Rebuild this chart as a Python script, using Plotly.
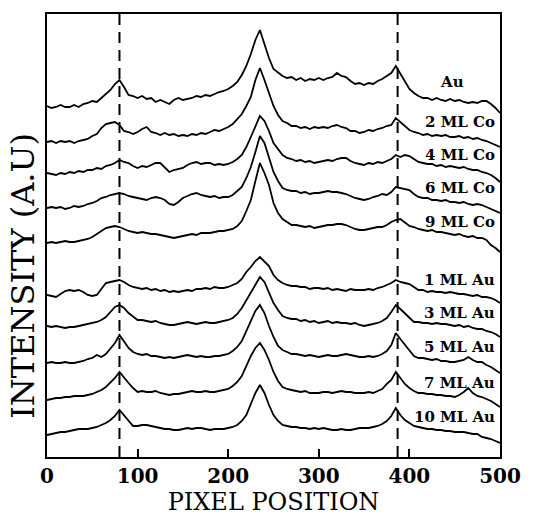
import plotly.graph_objects as go

# pixel position grid (step 5)
pixel = list(range(0, 505, 5))

labels = ["Au", "2 ML Co", "4 ML Co", "6 ML Co", "9 ML Co",
          "1 ML Au", "3 ML Au", "5 ML Au", "7 ML Au", "10 ML Au"]

# vertical offsets used to stack the spectra (a.u.)
offsets = [351, 315, 284, 249, 214, 162, 131, 94, 57, 22]

# reference peak positions (dashed lines)
ref_peaks = [80, 387]

au = [0, -2, -1, 1, -1, -1, 1, -1, 2, 3,
      5, 4, 8, 12, 16, 22, 26, 19, 11, 10,
      8, 10, 7, 8, 4, 6, 4, 2, 6, 8,
      6, 7, 8, 10, 9, 11, 10, 12, 14, 15,
      17, 20, 24, 31, 40, 52, 66, 76, 62, 48,
      37, 33, 30, 28, 29, 26, 28, 25, 27, 26,
      28, 26, 28, 29, 33, 30, 29, 25, 22, 23,
      21, 23, 22, 25, 27, 30, 33, 40, 32, 24,
      17, 13, 10, 8, 8, 6, 8, 6, 5, 7,
      5, 6, 4, 3, 4, 3, 5, 5, 2, -2,
      -7]

co2 = [0, 1, -1, 1, 0, 1, -1, 1, 2, 3,
       6, 8, 14, 18, 19, 20, 17, 11, 10, 8,
       10, 13, 15, 10, 9, 7, 9, 7, 8, 6,
       7, 6, 8, 7, 9, 8, 10, 12, 11, 13,
       15, 18, 23, 28, 36, 45, 62, 74, 62, 48,
       36, 27, 21, 19, 16, 16, 14, 15, 13, 15,
       14, 15, 14, 16, 17, 15, 14, 11, 11, 9,
       10, 12, 11, 13, 14, 16, 17, 24, 20, 16,
       12, 10, 9, 7, 8, 6, 7, 6, 7, 5,
       5, 6, 4, 5, 3, 4, 2, 1, -1, -3,
       -5]

co4 = [0, -1, -2, 0, -1, 1, 0, 2, 1, 3,
       3, 5, 4, 7, 8, 10, 13, 11, 10, 7,
       5, 7, 6, 8, 10, 10, 6, 1, 3, 4,
       5, 8, 10, 11, 9, 10, 10, 8, 9, 8,
       9, 11, 14, 18, 26, 36, 46, 57, 52, 42,
       30, 24, 18, 15, 14, 12, 13, 11, 12, 10,
       11, 12, 13, 12, 14, 15, 15, 12, 10, 9,
       8, 10, 9, 11, 10, 12, 14, 18, 16, 18,
       17, 14, 11, 10, 9, 9, 7, 8, 6, 7,
       6, 5, 6, 4, 3, 3, 1, 0, -2, -5,
       -9]

co6 = [0, 1, 0, 1, -1, 0, 2, 1, 2, 4,
       5, 7, 10, 11, 13, 14, 15, 14, 12, 11,
       10, 9, 8, 10, 11, 10, 8, 4, 3, 6,
       10, 12, 14, 15, 13, 12, 11, 12, 10, 11,
       11, 13, 17, 21, 30, 41, 56, 72, 65, 50,
       36, 27, 20, 18, 17, 17, 15, 16, 14, 15,
       15, 16, 17, 16, 16, 15, 14, 12, 10, 9,
       8, 9, 11, 12, 14, 13, 16, 21, 20, 19,
       18, 14, 11, 10, 10, 8, 8, 7, 8, 6,
       6, 5, 6, 4, 3, 4, 3, 1, -1, -3,
       -5]

co9 = [0, 1, 0, 1, 2, 1, 1, 2, 3, 4,
       6, 9, 12, 15, 16, 17, 16, 14, 12, 11,
       10, 11, 10, 9, 9, 8, 7, 6, 5, 6,
       7, 8, 9, 8, 10, 10, 10, 11, 12, 12,
       13, 14, 17, 22, 32, 43, 62, 80, 70, 58,
       40, 30, 24, 21, 18, 18, 17, 16, 17, 15,
       16, 17, 18, 18, 19, 19, 18, 16, 14, 13,
       13, 14, 15, 16, 16, 18, 21, 23, 24, 20,
       17, 16, 14, 13, 12, 13, 11, 11, 10, 9,
       8, 9, 7, 6, 7, 5, 5, 3, -2, -5,
       -9]

au1 = [0, -1, -2, 1, 4, 5, 4, 5, 3, 0,
       -1, 0, 6, 12, 13, 14, 15, 13, 10, 8,
       7, 6, 7, 5, 6, 4, 5, 3, 4, 3,
       4, 5, 4, 6, 6, 7, 6, 8, 7, 7,
       8, 10, 12, 16, 23, 28, 34, 38, 34, 29,
       20, 15, 12, 10, 9, 9, 8, 8, 6, 7,
       7, 6, 7, 5, 6, 5, 4, 6, 5, 5,
       5, 6, 5, 7, 8, 10, 12, 15, 13, 12,
       11, 8, 5, 5, 3, 4, 3, 3, 2, 3,
       2, 1, 1, 0, -1, 0, -2, -2, -3, -5,
       -8]

au3 = [0, -1, 0, -1, -2, -1, -1, 0, 1, 2,
       3, 4, 6, 9, 14, 19, 21, 18, 13, 9,
       6, 6, 5, 4, 5, 3, 2, 1, 1, 2,
       3, 4, 3, 2, 3, 4, 3, 3, 4, 5,
       6, 8, 12, 18, 26, 34, 42, 49, 44, 33,
       23, 16, 10, 8, 7, 7, 5, 6, 4, 5,
       3, 4, 5, 3, 4, 3, 3, 2, 3, 1,
       0, 1, 2, 3, 5, 8, 14, 21, 17, 13,
       9, 4, 4, 3, 3, 2, 3, 2, 2, 1,
       0, 1, -1, 0, -2, -3, -3, -5, -6, -8,
       -11]

au5 = [0, 1, 0, 0, 1, 0, 0, 1, 2, 4,
       5, 8, 6, 9, 14, 20, 28, 22, 15, 11,
       9, 8, 9, 7, 7, 6, 5, 6, 5, 6,
       7, 8, 7, 6, 7, 6, 6, 7, 7, 8,
       9, 12, 16, 22, 32, 43, 52, 58, 50, 37,
       26, 17, 13, 11, 9, 9, 8, 7, 8, 7,
       6, 7, 8, 7, 7, 8, 9, 8, 7, 6,
       6, 7, 6, 7, 9, 12, 18, 30, 24, 18,
       13, 7, 5, 5, 4, 3, 4, 2, 2, 1,
       1, 2, 3, 6, 3, 1, 1, -2, -4, -7,
       -10]

au7 = [0, 1, 2, 2, 3, 3, 4, 4, 4, 5,
       6, 8, 10, 13, 17, 22, 28, 22, 17, 12,
       8, 9, 8, 8, 9, 7, 6, 5, 6, 6,
       7, 8, 9, 8, 8, 9, 8, 8, 9, 10,
       11, 14, 18, 24, 34, 44, 52, 57, 50, 40,
       28, 19, 13, 11, 10, 9, 8, 9, 7, 7,
       7, 8, 8, 7, 8, 9, 8, 8, 7, 7,
       7, 8, 7, 9, 11, 16, 20, 28, 22, 16,
       12, 9, 7, 7, 6, 6, 5, 5, 4, 4,
       3, 5, 8, 12, 7, 4, 3, 1, -1, -4,
       -7]

au10 = [0, 1, 2, 3, 3, 4, 5, 6, 6, 6,
        7, 8, 10, 12, 15, 19, 25, 20, 14, 9,
        9, 10, 10, 9, 8, 7, 6, 6, 5, 5,
        6, 7, 6, 7, 7, 6, 5, 6, 6, 6,
        7, 8, 10, 14, 20, 32, 42, 50, 42, 30,
        20, 14, 10, 9, 8, 8, 7, 7, 6, 7,
        6, 7, 6, 5, 5, 6, 5, 5, 6, 7,
        7, 7, 8, 9, 11, 14, 19, 27, 20, 15,
        12, 9, 8, 7, 6, 6, 5, 5, 4, 4,
        3, 3, 3, 2, 1, 1, -2, -3, -4, -6,
        -8]

series = [au, co2, co4, co6, co9, au1, au3, au5, au7, au10]

SERIF = "DejaVu Serif"
Y_TOP = 443

fig = go.Figure()

for name, vals, off in zip(labels, series, offsets):
    fig.add_trace(go.Scatter(
        x=pixel, y=[v + off for v in vals], mode="lines", name=name,
        line=dict(color="black", width=1.8), showlegend=False,
        hoverinfo="skip"))

for xp in ref_peaks:
    fig.add_trace(go.Scatter(
        x=[xp, xp], y=[0, Y_TOP], mode="lines", showlegend=False,
        line=dict(color="black", width=2, dash="11px,7px"), hoverinfo="skip"))

# label positions (above each trace, at the right edge)
label_dy = [24, 20, 18, 20, 21, 15, 13, 16, 17, 18]
for i, (name, off) in enumerate(zip(labels, offsets)):
    if i == 0:
        xa, xpos = "center", 447
    else:
        xa, xpos = "right", 497
    fig.add_annotation(x=xpos, y=off + label_dy[i], text=name, showarrow=False,
                       xanchor=xa, yanchor="middle",
                       font=dict(family=SERIF, size=15, color="black", weight="bold"))

fig.add_annotation(xref="paper", yref="paper", x=-0.052, y=0.41,
                   text="INTENSITY (A.U)", textangle=-90, showarrow=False,
                   xanchor="center", yanchor="middle",
                   font=dict(family=SERIF, size=32, color="black"))

fig.update_layout(
    width=533, height=519,
    margin=dict(l=47, r=27, t=14, b=62),
    paper_bgcolor="white", plot_bgcolor="white",
    xaxis=dict(range=[0, 500], tickvals=[0, 100, 200, 300, 400, 500],
               ticks="inside", ticklen=8, tickwidth=2, tickcolor="black",
               showline=True, linecolor="black", linewidth=2, mirror=True,
               showgrid=False, zeroline=False,
               tickfont=dict(family=SERIF, size=20, color="black", weight="bold"),
               title=dict(text="PIXEL POSITION", standoff=0,
                          font=dict(family=SERIF, size=24, color="black"))),
    yaxis=dict(range=[0, Y_TOP], showticklabels=False, ticks="",
               showline=True, linecolor="black", linewidth=2, mirror=True,
               showgrid=False, zeroline=False),
)

fig.write_html("out.html", config={"displayModeBar": False},
               post_script="document.body.style.margin='0';")
